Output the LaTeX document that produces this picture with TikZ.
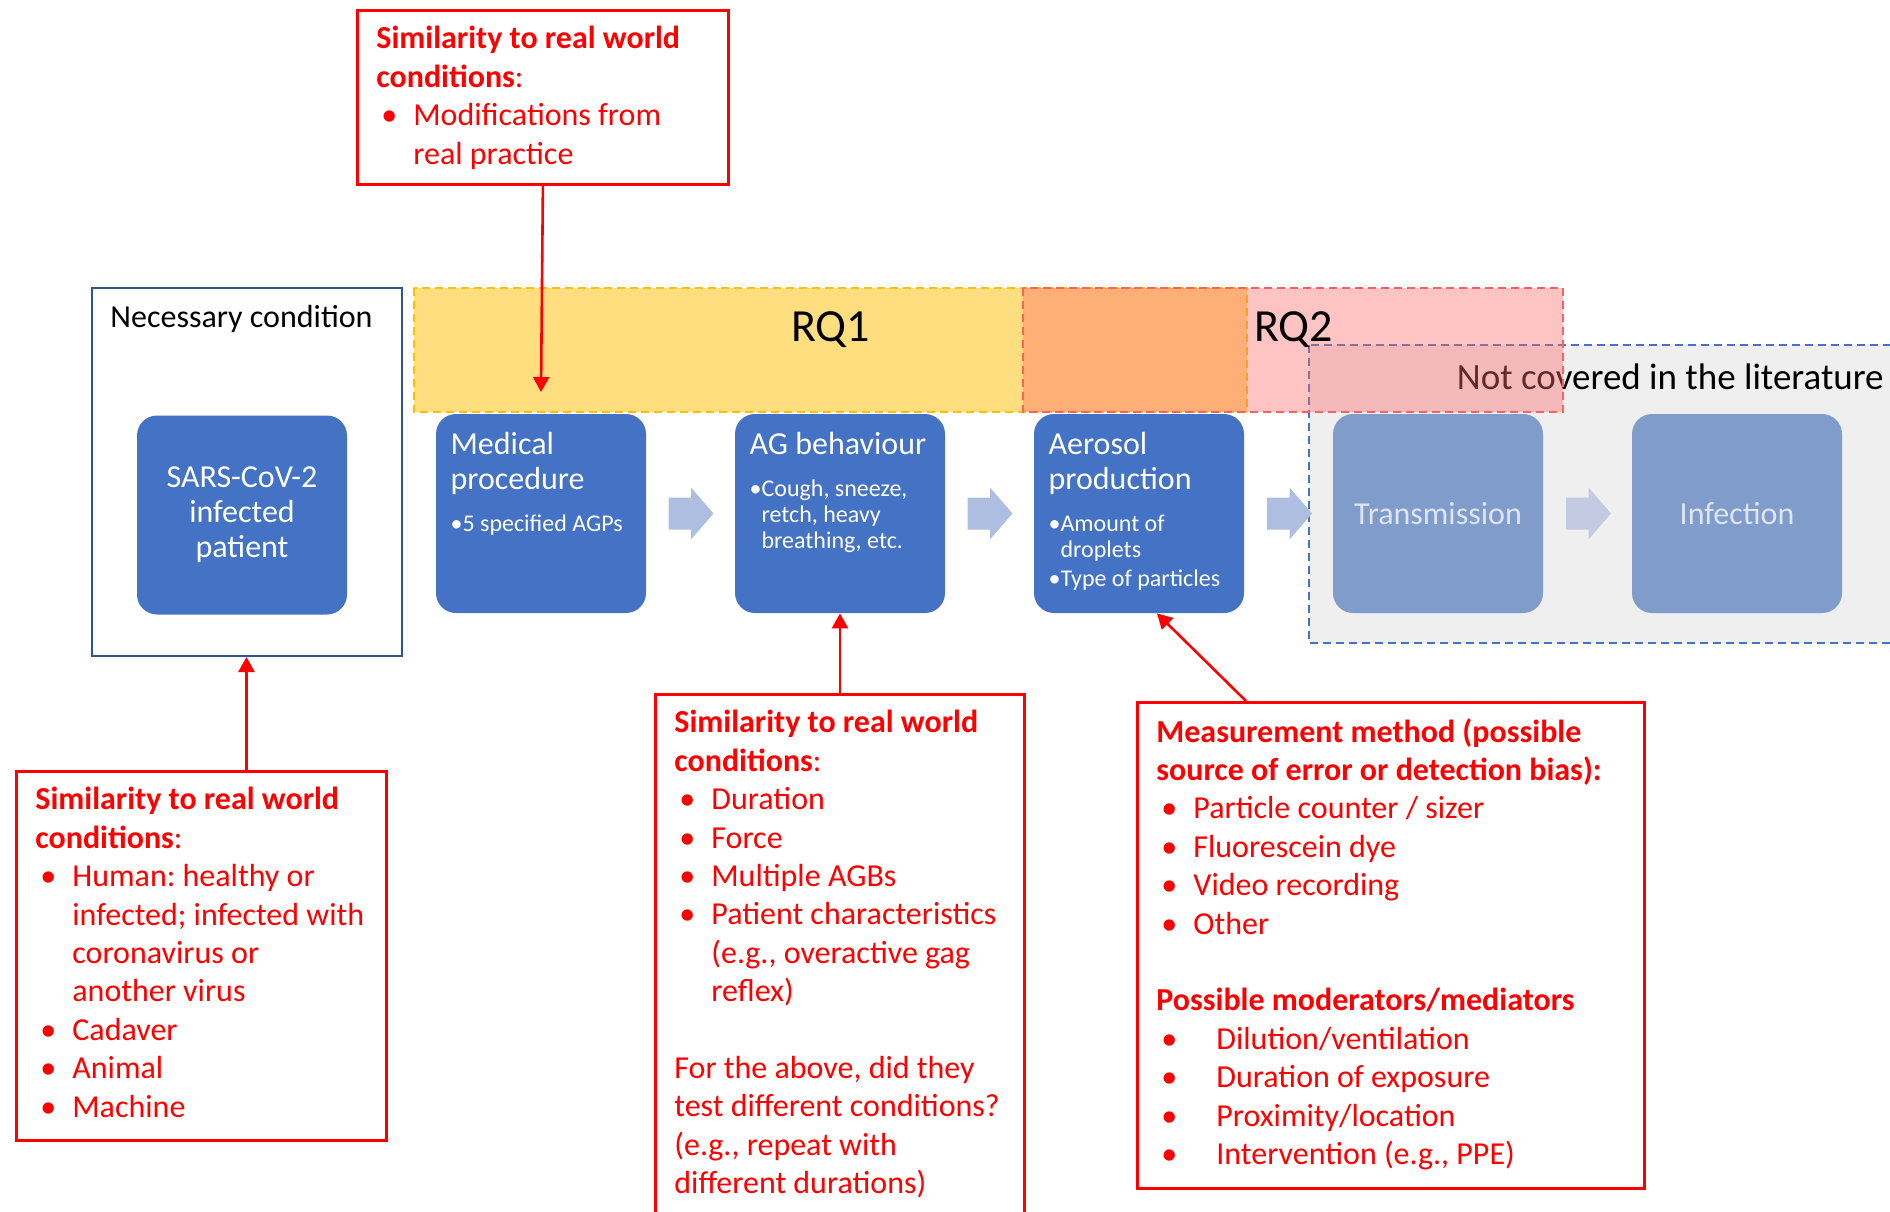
\documentclass[tikz,border=0pt]{standalone}
\usepackage{fontspec}
\setmainfont{Carlito}
\usetikzlibrary{arrows.meta}
\setlength{\parindent}{0pt}
\frenchspacing

\definecolor{stageblue}{HTML}{4472C4}
\definecolor{fadeblue}{HTML}{7F9CCB}
\definecolor{fadetext}{HTML}{DFE4EF}
\definecolor{condblue}{HTML}{2F5597}
\definecolor{chevblue}{HTML}{AEBEE1}
\definecolor{chevfade}{HTML}{C3CAE1}
\definecolor{rqyellow}{HTML}{FFDE80}
\definecolor{rqyellowline}{HTML}{FFC000}
\definecolor{rqred}{HTML}{FC6969}
\definecolor{rqredline}{HTML}{FF6060}
\definecolor{gapgray}{HTML}{EFEFEF}
\definecolor{notered}{HTML}{FF0000}

% bullet items: red notes (hanging indent) and blue stages
\newcommand{\notebul}[2][18.5pt]{\par\hangindent=#1\hangafter=1\noindent\makebox[#1][l]{\hspace{2.5pt}\textbullet}#2}
\newcommand{\stagebul}[1]{\par\setbox0=\hbox{\textbullet}\hangindent=\wd0\hangafter=1\noindent\box0 #1}
\newcommand{\stagesmall}{\par\vspace{8pt}\fontsize{12pt}{13pt}\selectfont}

\tikzset{
    chevron/.pic={\fill (-22.5,-16) -- (0,-16) -- (0,-26) -- (22.5,0) -- (0,26) -- (0,16) -- (-22.5,16) -- cycle;}
}

\begin{document}
\begin{tikzpicture}[
    x=0.5pt, y=-0.5pt,
    stage/.style={rectangle, rounded corners=10pt, fill=stageblue, minimum width=105pt, minimum height=99.5pt, inner sep=0pt},
    fadestage/.style={stage, fill=fadeblue, text=fadetext, align=center, font=\fontsize{16pt}{17.5pt}\selectfont},
    stagetext/.style={anchor=north west, inner sep=0pt, text=white, text width=95pt, align=flush left, font=\fontsize{16pt}{17.5pt}\selectfont},
    notebox/.style={rectangle, draw=notered, line width=1.4pt, anchor=north west, inner sep=0pt},
    notetext/.style={anchor=north west, inner sep=0pt, text=notered, text width=250pt, align=flush left, font=\fontsize{16pt}{19.2pt}\selectfont},
    redarrow/.style={draw=notered, line width=1.3pt, -{Triangle[width=8pt,length=7.5pt]}},
    banddash/.style={dash pattern=on 4pt off 2.5pt, line width=0.9pt},
    rqlabel/.style={inner sep=0pt, font=\fontsize{23pt}{27pt}\selectfont}
]
\useasboundingbox (0,0) rectangle (1890,1211);

% not covered in the literature
\filldraw[fill=gapgray, draw=stageblue, banddash] (1309,345) rectangle (1900,643);
\node[anchor=base east, inner sep=0pt, font=\fontsize{18.5pt}{22pt}\selectfont] (notcov) at (1884,389) {Not covered in the literature};

% RQ bands
\filldraw[fill=rqyellow, draw=rqyellowline, banddash] (414,288) rectangle (1247,412);
\filldraw[fill=rqred, fill opacity=0.4, draw=rqredline, banddash] (1023,288) rectangle (1563,412);
\node[rqlabel, anchor=base] (rq1) at (830.5,341.5) {RQ1};
\node[rqlabel, anchor=base west] (rq2) at (1254,341.5) {RQ2};

% necessary condition
\node[draw=condblue, line width=1pt, minimum width=155pt, minimum height=184pt] (cond) at (246.5,472) {};
\node[anchor=north, inner sep=0pt, font=\fontsize{16pt}{19pt}\selectfont] (condtxt) at ([xshift=-2.5pt,yshift=-9pt]cond.north) {Necessary condition};

% stages
\node[stage, text=white, align=center, font=\fontsize{16pt}{17.5pt}\selectfont] (sars) at (242,515) {SARS-CoV-2\\infected\\patient};
\node[stage] (med) at (541,513.5) {};
\node[stage] (ag) at (840,513.5) {};
\node[stage] (aero) at (1139,513.5) {};
\node[fadestage] (trans) at (1438,513.5) {Transmission};
\node[fadestage] (infect) at (1737,513.5) {Infection};

\node[stagetext] (medtxt) at ([xshift=7.3pt,yshift=-9.3pt]med.north west)
    {Medical\newline procedure\stagesmall\stagebul{5 specified AGPs}\par};
\node[stagetext] (agtxt) at ([xshift=7.3pt,yshift=-9.3pt]ag.north west)
    {AG behaviour\stagesmall\stagebul{Cough, sneeze,\newline retch, heavy\newline breathing, etc.}\par};
\node[stagetext] (aerotxt) at ([xshift=7.3pt,yshift=-9.3pt]aero.north west)
    {Aerosol\newline production\stagesmall\stagebul{Amount of\newline droplets}\par\vspace{1.5pt}\stagebul{Type of particles}\par};

% arrows between stages
\pic[chevblue] (ch1) at (691,513.5) {chevron};
\pic[chevblue] (ch2) at (990,513.5) {chevron};
\pic[chevblue] (ch3) at (1289.5,513.5) {chevron};
\pic[chevfade] (ch4) at (1588.5,513.5) {chevron};

% red notes
\node[notebox, minimum width=185.5pt, minimum height=87pt] (topnote) at (356,9) {};
\node[notetext] (toptxt) at ([xshift=10pt,yshift=-8.5pt]topnote.north west)
    {\textbf{Similarity to real world}\newline\textbf{conditions}:\notebul{Modifications from\newline real practice}\par};

\node[notebox, minimum width=185pt, minimum height=184.5pt] (leftnote) at (15,770) {};
\node[notetext] (lefttxt) at ([xshift=10pt,yshift=-8.5pt]leftnote.north west)
    {\textbf{Similarity to real world}\newline\textbf{conditions}:
     \notebul{Human: healthy or\newline infected; infected with\newline coronavirus or\newline another virus}
     \notebul{Cadaver}\notebul{Animal}\notebul{Machine}\par};

\node[notebox, minimum width=184.5pt, minimum height=268pt] (midnote) at (654,693) {};
\node[notetext] (midtxt) at ([xshift=10pt,yshift=-8.5pt]midnote.north west)
    {\textbf{Similarity to real world}\newline\textbf{conditions}:
     \notebul{Duration}\notebul{Force}\notebul{Multiple AGBs}
     \notebul{Patient characteristics\newline (e.g., overactive gag\newline reflex)}
     \par\vspace{19.2pt}For the above, did they\newline test different conditions?\newline
     (e.g., repeat with\newline different durations)\par};

\node[notebox, minimum width=253.5pt, minimum height=243pt] (rightnote) at (1136,701) {};
\node[notetext] (righttxt) at ([xshift=10pt,yshift=-8.5pt]rightnote.north west)
    {\textbf{Measurement method (possible\newline source of error or detection bias):}
     \notebul{Particle counter / sizer}\notebul{Fluorescein dye}\notebul{Video recording}\notebul{Other}
     \par\vspace{19.2pt}\textbf{Possible moderators/mediators}
     \notebul[30pt]{Dilution/ventilation}\notebul[30pt]{Duration of exposure}
     \notebul[30pt]{Proximity/location}\notebul[30pt]{Intervention (e.g., PPE)}\par};

% red arrows
\coordinate (medin) at (541,392);
\draw[redarrow] (topnote.south) -- (medin);
\draw[redarrow] (leftnote.north -| cond.south) -- (cond.south);
\draw[redarrow] (midnote.north -| ag.south) -- (ag.south);
\draw[redarrow] ([xshift=55pt]rightnote.north west) -- ([xshift=9pt]aero.south);

\end{tikzpicture}
\end{document}
